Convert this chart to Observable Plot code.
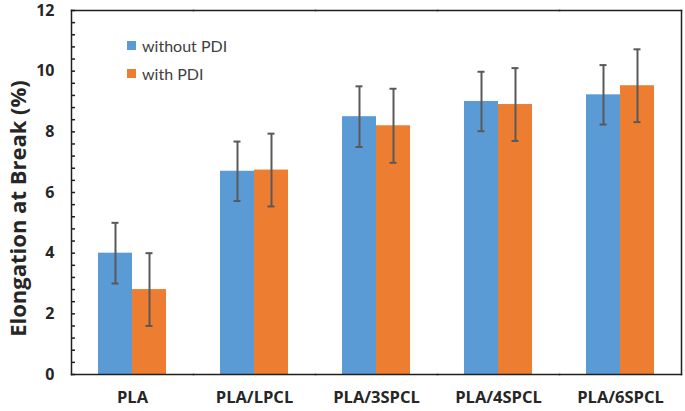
<!DOCTYPE html>
<html><head><meta charset="utf-8">
<script src="https://cdn.jsdelivr.net/npm/d3@7"></script>
<script src="https://cdn.jsdelivr.net/npm/@observablehq/plot@0.6"></script>
<style>
html,body{margin:0;padding:0;background:#fff;}
#wrap{position:relative;width:685px;height:411px;font-family:Lato,sans-serif;}
#legend{position:absolute;left:127px;top:31px;font-size:16px;color:#404040;}
#legend .item{display:flex;align-items:center;height:28px;}
#legend .sw{width:9px;height:9px;margin-right:6px;}
</style></head><body><div id="wrap"><div id="legend"></div></div>
<script>
const categories = ["PLA", "PLA/LPCL", "PLA/3SPCL", "PLA/4SPCL", "PLA/6SPCL"];
const seriesNames = ["without PDI", "with PDI"];
const seriesColors = ["#5B9BD5", "#ED7D31"];
const withoutPDI = [4.0, 6.7, 8.5, 9.0, 9.22];
const withoutErr = [1.0, 0.98, 1.0, 0.98, 0.98];
const withPDI = [2.8, 6.74, 8.2, 8.9, 9.52];
const withErr = [1.2, 1.2, 1.22, 1.2, 1.2];
const majorTicks = [0, 2, 4, 6, 8, 10, 12];
const minorTicks = d3.range(0, 61, 2).map(v => v / 5);
const yTitle = "Elongation at Break (%)";

const rows = [];
categories.forEach((c, i) => {
  rows.push({cat: c, series: seriesNames[0], value: withoutPDI[i], err: withoutErr[i]});
  rows.push({cat: c, series: seriesNames[1], value: withPDI[i], err: withErr[i]});
});

const lineColor = "#1f1f1f";
const errColor = "#595959";
const boldFont = "'Open Sans', sans-serif";

const chart = Plot.plot({
  width: 685, height: 411,
  marginLeft: 69, marginRight: 2, marginTop: 10, marginBottom: 37,
  style: {fontFamily: "Lato, sans-serif", background: "#fff", overflow: "visible", color: "#262626"},
  fx: {domain: categories, padding: 0, label: null},
  x: {domain: seriesNames, paddingInner: 0, paddingOuter: 0.75, axis: null},
  y: {domain: [0, 12], axis: null},
  color: {domain: seriesNames, range: seriesColors},
  marks: [
    Plot.barY(rows, {fx: "cat", x: "series", y: "value", fill: "series"}),
    Plot.ruleX(rows, {fx: "cat", x: "series", y1: d => d.value - d.err, y2: d => d.value + d.err, stroke: errColor, strokeWidth: 2}),
    Plot.tickY(rows, {fx: "cat", x: "series", y: d => d.value + d.err, stroke: errColor, strokeWidth: 2, inset: 13.5}),
    Plot.tickY(rows, {fx: "cat", x: "series", y: d => d.value - d.err, stroke: errColor, strokeWidth: 2, inset: 13.5}),
    Plot.frame({anchor: "top", stroke: lineColor, strokeWidth: 1.5}),
    Plot.frame({anchor: "bottom", stroke: lineColor, strokeWidth: 1.5}),
    Plot.frame({anchor: "left", facetAnchor: "left", stroke: lineColor, strokeWidth: 1.5}),
    Plot.frame({anchor: "right", facetAnchor: "right", stroke: lineColor, strokeWidth: 1.5}),
    Plot.axisY(minorTicks, {tickSize: -4, tickFormat: () => "", label: null, stroke: lineColor, strokeWidth: 1.5}),
    Plot.axisY(majorTicks, {tickSize: 0, tickPadding: 17, fontSize: 16, fontWeight: "bold", fontFamily: boldFont, label: null, fill: "#262626"}),
    Plot.axisFx({anchor: "bottom", tickSize: 0, tickPadding: 17, fontSize: 16.5, fontWeight: "bold", fontFamily: boldFont, label: null, fill: "#262626"}),
    Plot.text([yTitle], {text: d => d, frameAnchor: "left", facetAnchor: "left", textAnchor: "middle", rotate: -90, dx: -53, dy: 16, fontSize: 22, fontWeight: "bold", fontFamily: boldFont, fill: "#262626"})
  ]
});
document.getElementById("wrap").prepend(chart);

const lg = document.getElementById("legend");
seriesNames.forEach((s, i) => {
  const it = document.createElement("div");
  it.className = "item";
  const sw = document.createElement("span");
  sw.className = "sw";
  sw.style.background = seriesColors[i];
  it.appendChild(sw);
  it.appendChild(document.createTextNode(s));
  lg.appendChild(it);
});
</script>
</body></html>
